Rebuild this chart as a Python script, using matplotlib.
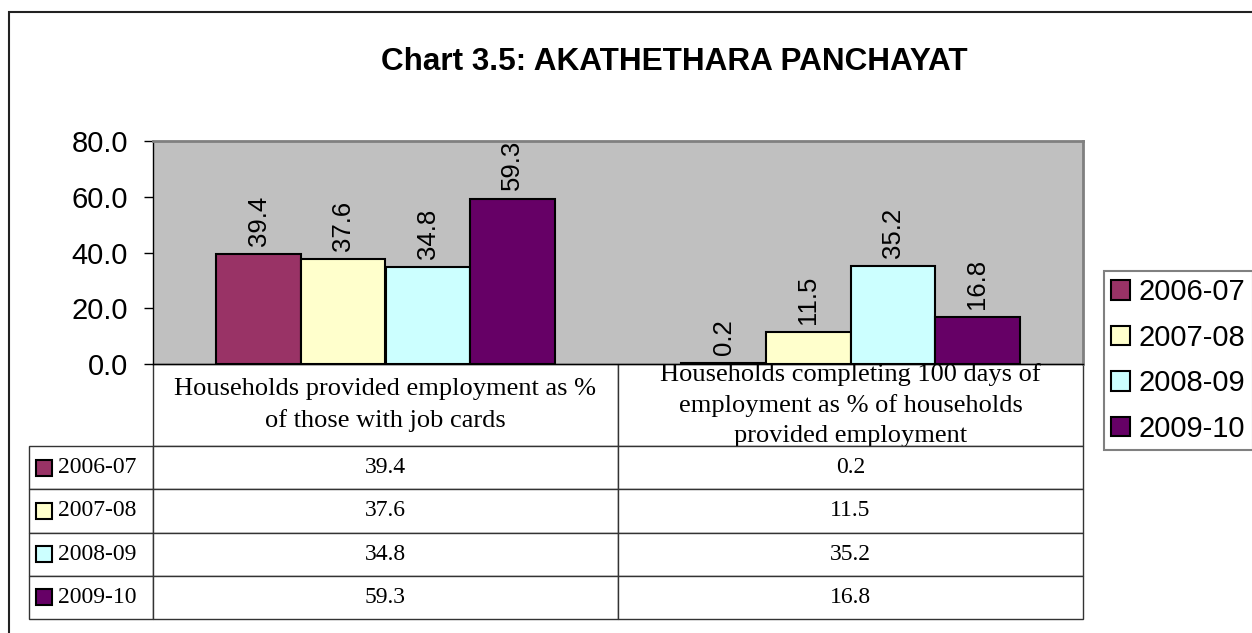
import numpy as np
import matplotlib.pyplot as plt
from matplotlib.table import Table
from matplotlib.patches import Rectangle

# Data
categories = [
    "Households provided employment as %\nof those with job cards",
    "Households completing 100 days of\nemployment as % of households\nprovided employment",
]
years = ["2006-07", "2007-08", "2008-09", "2009-10"]
v_2006_07 = [39.4, 0.2]
v_2007_08 = [37.6, 11.5]
v_2008_09 = [34.8, 35.2]
v_2009_10 = [59.3, 16.8]
series = [v_2006_07, v_2007_08, v_2008_09, v_2009_10]
colors = ["#993366", "#FFFFCC", "#CCFFFF", "#660066"]
yticks = [0, 20, 40, 60, 80]
title = "Chart 3.5: AKATHETHARA PANCHAYAT"

W, H = 1252, 633
fig = plt.figure(figsize=(W / 100, H / 100), dpi=100)

# plot area (pixels)
L, R, T, B = 153, 1083, 141, 364
aw, ah = R - L, B - T
ax = fig.add_axes([L / W, 1 - B / H, aw / W, ah / H])
ax.set_facecolor("#C0C0C0")

x = np.arange(len(categories)) + 0.5
bw = 1 / 5.5
for i, (yr, vals, c) in enumerate(zip(years, series, colors)):
    bars = ax.bar(x + (i - 1.5) * bw, vals, bw, color=c, edgecolor="black",
                  linewidth=1.5, label=yr)
    ax.bar_label(bars, labels=[f"{v:.1f}" for v in vals], rotation=90,
                 padding=6, fontsize=18.5, family="Liberation Sans")

ax.set_yticks(yticks)
ax.set_yticklabels([f"{t:.1f}" for t in yticks], fontsize=21, family="Liberation Sans")
ax.tick_params(axis="y", length=6.5, width=1, pad=11.5)
ax.set_xticks([])
for s in ["top", "right"]:
    ax.spines[s].set_color("#808080")
    ax.spines[s].set_linewidth(2)
for s in ["left", "bottom"]:
    ax.spines[s].set_color("black")
    ax.spines[s].set_linewidth(1)

# data table below the plot (sizes in axes units, bbox covers the data columns)
tb_left, hdr_bot, tb_bot = 29, 446, 619
lab_w, col_w = (L - tb_left) / aw, 0.5
hdr_h, row_h = (hdr_bot - B) / ah, (tb_bot - hdr_bot) / 4 / ah
tbl = Table(ax, bbox=[0, -(tb_bot - B) / ah, 1, (tb_bot - B) / ah])
for j, cat in enumerate(categories):
    tbl.add_cell(0, j, col_w, hdr_h, text=cat, loc="center")
for i, (yr, vals) in enumerate(zip(years, series)):
    c = tbl.add_cell(i + 1, -1, lab_w, row_h, text=yr, loc="left")
    c.PAD = (58 - tb_left) / (L - tb_left)
    for j, v in enumerate(vals):
        tbl.add_cell(i + 1, j, col_w, row_h, text=f"{v:.1f}", loc="center")
tbl.auto_set_font_size(False)
for (r, col), cell in tbl.get_celld().items():
    cell.set_edgecolor("#333333")
    cell.set_linewidth(1)
    t = cell.get_text()
    t.set_fontfamily("Liberation Serif")
    if r == 0:
        t.set_fontsize(19)
        t.set_linespacing(1.45)
    else:
        t.set_fontsize(17)
ax.add_table(tbl)

# legend keys inside the table
for i, c in enumerate(colors):
    my = -(hdr_h + (i + 0.5) * row_h)
    ax.plot([(43.5 - L) / aw], [my], marker="s", ms=12, mfc=c, mec="black", mew=1.5,
            transform=ax.transAxes, clip_on=False, zorder=5)

ax.set_xlim(0, 2)
ax.set_ylim(0, 80)

leg = fig.legend(loc="upper left", bbox_to_anchor=(1104 / W, 1 - 271 / H),
                 prop={"family": "Liberation Sans", "size": 21}, frameon=True,
                 fancybox=False, edgecolor="#808080", framealpha=1,
                 handlelength=0.65, handleheight=0.65, handletextpad=0.3,
                 labelspacing=0.6, borderpad=0.25, borderaxespad=0)
leg.get_frame().set_linewidth(1.5)

fig.text(674 / W, 1 - 62 / H, title, ha="center", va="center", fontsize=22.7,
         fontweight="bold", family="Liberation Sans")

# outer chart border
fig.add_artist(Rectangle((9 / W, -0.1), 1.2, 1 - 12 / H + 0.1, transform=fig.transFigure,
                         fill=False, edgecolor="#222222", linewidth=1.5))

fig.savefig("out.png", dpi=100)
